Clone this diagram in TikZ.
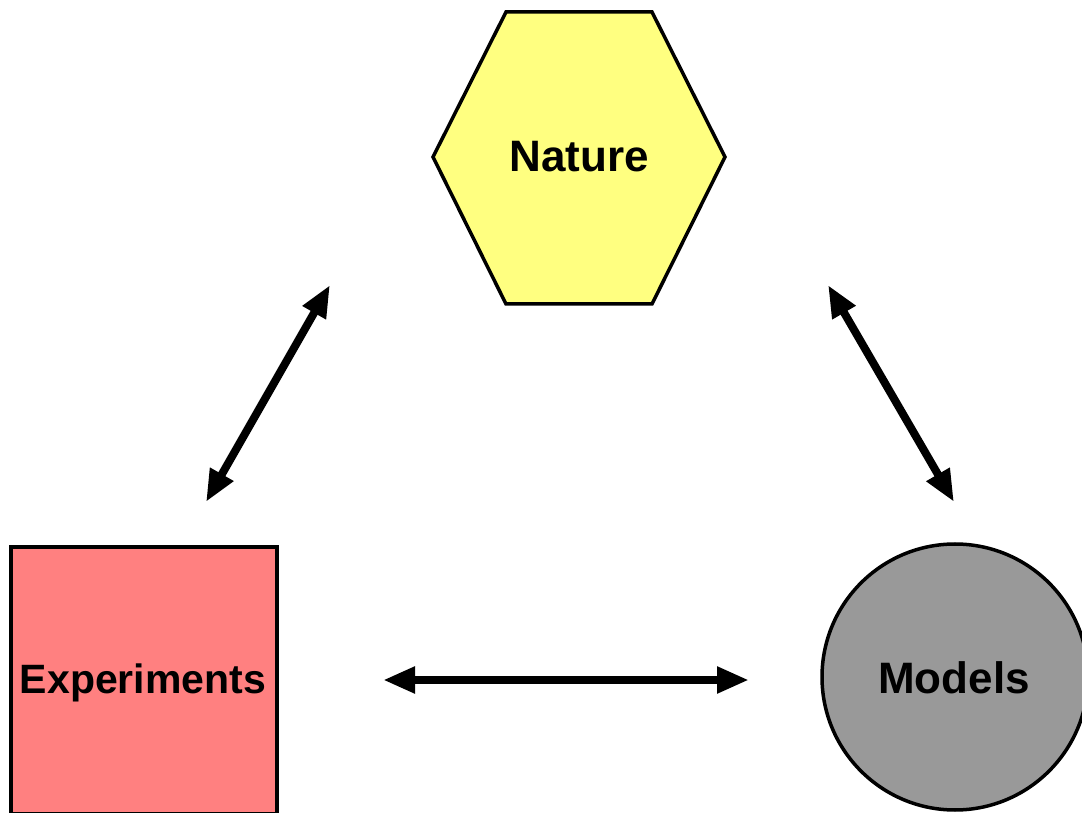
\documentclass[tikz,border=0pt]{standalone}
\usepackage{fontspec}
\setmainfont{Liberation Sans}
\usetikzlibrary{arrows.meta}
\definecolor{natfill}{HTML}{FFFF80}
\definecolor{expfill}{HTML}{FF8080}
\definecolor{modfill}{HTML}{999999}
\begin{document}
\begin{tikzpicture}[x=1pt,y=1pt,
  shapeline/.style={draw=black,line width=3.5pt,line join=miter},
  lbl/.style={inner sep=0pt,anchor=base,font=\bfseries\fontsize{44}{50}\selectfont},
  link/.style={line width=8pt,{Triangle[length=32pt,width=25pt]}-{Triangle[length=32pt,width=25pt]}}]
\useasboundingbox (0,0) rectangle (1082,812);
\clip (0,0) rectangle (1082,812);
% shapes
\draw[shapeline,fill=natfill] (506,800) -- (652,800) -- (725,655) -- (652,508) -- (506,508) -- (433,655) -- cycle;
\draw[shapeline,fill=expfill] (11,-2) rectangle (277,265);
\draw[shapeline,fill=modfill] (955,135) circle (133);
% labels
\node[lbl] (nature) at (579,640) {Nature};
\node[lbl,font=\bfseries\fontsize{41}{48}\selectfont] (experiments) at (143,119) {Experiments};
\node[lbl] (models) at (954,119) {Models};
% connector ends
\coordinate (ne) at (330,527);
\coordinate (en) at (206,310);
\coordinate (nm) at (828,527);
\coordinate (mn) at (954,310);
\coordinate (em) at (383,132);
\coordinate (me) at (749,132);
\draw[link] (en) -- (ne);
\draw[link] (nm) -- (mn);
\draw[link] (em) -- (me);
\end{tikzpicture}
\end{document}
